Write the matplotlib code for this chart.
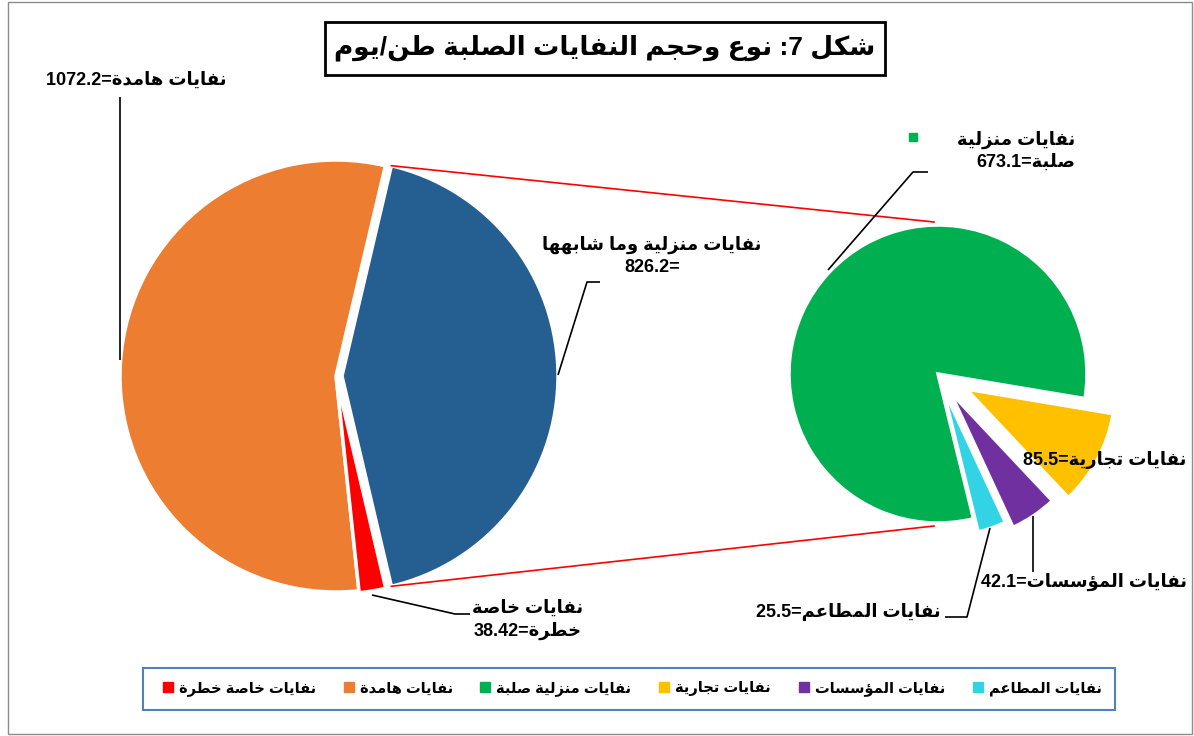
import re

import numpy as np
import matplotlib
matplotlib.use("Agg")
import matplotlib.pyplot as plt
from matplotlib.patches import Rectangle
from matplotlib.lines import Line2D

W, H = 1194, 736

# data (tons/day)
main_names = ["نفايات منزلية وما شابهها", "نفايات هامدة", "نفايات خاصة خطرة"]
main_values = [826.2, 1072.2, 38.42]
main_colors = ["#255E91", "#ED7D31", "#FF0000"]

sub_names = ["نفايات منزلية صلبة", "نفايات المطاعم", "نفايات المؤسسات", "نفايات تجارية"]
sub_values = [673.1, 25.5, 42.1, 85.5]
sub_colors = ["#00B050", "#33D3E6", "#7030A0", "#FFC000"]

title = "شكل 7: نوع وحجم النفايات الصلبة طن/يوم"

FAMILY = ["Liberation Sans", "DejaVu Sans"]

# minimal arabic shaping (presentation forms) + right-to-left ordering
_DUAL = {"ئ": 0xFE89, "ب": 0xFE8F, "ت": 0xFE95, "ث": 0xFE99, "ج": 0xFE9D, "ح": 0xFEA1,
         "خ": 0xFEA5, "س": 0xFEB1, "ش": 0xFEB5, "ص": 0xFEB9, "ض": 0xFEBD, "ط": 0xFEC1,
         "ظ": 0xFEC5, "ع": 0xFEC9, "غ": 0xFECD, "ف": 0xFED1, "ق": 0xFED5, "ك": 0xFED9,
         "ل": 0xFEDD, "م": 0xFEE1, "ن": 0xFEE5, "ه": 0xFEE9, "ي": 0xFEF1}
_RIGHT = {"آ": 0xFE81, "أ": 0xFE83, "ؤ": 0xFE85, "إ": 0xFE87, "ا": 0xFE8D, "ة": 0xFE93,
          "د": 0xFEA9, "ذ": 0xFEAB, "ر": 0xFEAD, "ز": 0xFEAF, "و": 0xFEED, "ى": 0xFEEF}
_LAMALEF = {"آ": 0xFEF5, "أ": 0xFEF7, "إ": 0xFEF9, "ا": 0xFEFB}


def shape(s):
    toks = []
    i = 0
    while i < len(s):
        c = s[i]
        if c == "ل" and i + 1 < len(s) and s[i + 1] in _LAMALEF:
            toks.append((_LAMALEF[s[i + 1]], "R"))
            i += 2
            continue
        if c in _DUAL:
            toks.append((_DUAL[c], "D"))
        elif c in _RIGHT:
            toks.append((_RIGHT[c], "R"))
        else:
            toks.append((c, None))
        i += 1
    out = []
    for k, (b, t) in enumerate(toks):
        if t is None:
            out.append(b)
            continue
        pj = k > 0 and toks[k - 1][1] == "D"
        nj = t == "D" and k + 1 < len(toks) and toks[k + 1][1] is not None
        if t == "D":
            off = 3 if (pj and nj) else 1 if pj else 2 if nj else 0
        else:
            off = 1 if pj else 0
        out.append(chr(b + off))
    return "".join(out)


def rtl(s):
    lines = []
    for line in s.split("\n"):
        v = shape(line)[::-1]
        v = re.sub(r"[0-9.]+", lambda m: m.group(0)[::-1], v)
        lines.append(v)
    return "\n".join(lines)


def iy(y):
    # image y (from top) -> axes y (from bottom)
    return H - y


def leader(ax, pts):
    xs = [p[0] for p in pts]
    ys = [iy(p[1]) for p in pts]
    ax.plot(xs, ys, color="black", lw=1.2, solid_capstyle="butt", zorder=3)


fig = plt.figure(figsize=(W / 100, H / 100), dpi=100)
ax = fig.add_axes([0, 0, 1, 1])

# main pie, combined slice centred on the right side
main_c = (336, iy(376))
main_r = 216
start_main = -main_values[0] / sum(main_values) * 180
wl, _ = ax.pie(main_values, colors=main_colors, startangle=start_main, counterclock=True,
               explode=[6, 0, 2], center=main_c, radius=main_r,
               wedgeprops=dict(edgecolor="white", linewidth=2.5))

# secondary pie (explode is in data units here)
sub_c = (938, iy(374))
sub_r = 149
wr, _ = ax.pie(sub_values, colors=sub_colors, startangle=-9.5, counterclock=True,
               explode=[0, 14, 22, 32], center=sub_c, radius=sub_r,
               wedgeprops=dict(edgecolor="white", linewidth=2.5))

# connector lines
bw = wl[0]
bx, by = bw.center
p_top = (bx + bw.r * np.cos(np.radians(bw.theta2)), by + bw.r * np.sin(np.radians(bw.theta2)))
p_bot = (bx + bw.r * np.cos(np.radians(bw.theta1)), by + bw.r * np.sin(np.radians(bw.theta1)))
ax.plot([p_top[0], sub_c[0] - 4], [p_top[1], sub_c[1] + sub_r + 3], color="#FF0000", lw=1.2, zorder=1)
ax.plot([p_bot[0], sub_c[0] - 4], [p_bot[1], sub_c[1] - sub_r - 3], color="#FF0000", lw=1.2, zorder=1)

ax.set_xlim(0, W)
ax.set_ylim(0, H)
ax.set_aspect("equal")
ax.axis("off")

# data labels
lab_kw = dict(family=FAMILY, fontweight="bold", fontsize=13, color="black",
              va="center", zorder=4)
ax.text(136, iy(80), rtl(f"{main_names[1]}={main_values[1]}"), ha="center", **lab_kw)
ax.text(652, iy(256), rtl(f"{main_names[0]}\n={main_values[0]}"), ha="center",
        multialignment="center", linespacing=1.35, **lab_kw)
ax.text(528, iy(620), rtl(f"نفايات خاصة\nخطرة={main_values[2]}"), ha="center",
        multialignment="center", linespacing=1.35, **lab_kw)
ax.text(1075, iy(151), rtl(f"نفايات منزلية\nصلبة={sub_values[0]}"), ha="right",
        multialignment="right", linespacing=1.35, **lab_kw)
ax.plot([913], [iy(137)], marker="s", ms=6, color=sub_colors[0], ls="none", zorder=4)
ax.text(1186, iy(460), rtl(f"{sub_names[3]}={sub_values[3]}"), ha="right", **lab_kw)
ax.text(1187, iy(582), rtl(f"{sub_names[2]}={sub_values[2]}"), ha="right", **lab_kw)
ax.text(941, iy(612), rtl(f"{sub_names[1]}={sub_values[1]}"), ha="right", **lab_kw)

leader(ax, [(120, 360), (120, 97)])
leader(ax, [(558, 375), (587, 282), (600, 282)])
leader(ax, [(828, 270), (913, 172), (928, 172)])
leader(ax, [(1033, 516), (1033, 572)])
leader(ax, [(990, 528), (967, 617), (945, 617)])
leader(ax, [(372, 595), (455, 614), (470, 614)])

# title in a box
ax.add_patch(Rectangle((325, iy(75)), 560, 53, fill=False, edgecolor="black", lw=2, zorder=5))
ax.text(605, iy(48), rtl(title), ha="center", va="center", family=FAMILY,
        fontweight="bold", fontsize=19, zorder=6)

# legend (left to right as in the reference)
order = [("m", 2), ("m", 1), ("s", 0), ("s", 3), ("s", 2), ("s", 1)]
handles, labels = [], []
for kind, idx in order:
    names, cols = (main_names, main_colors) if kind == "m" else (sub_names, sub_colors)
    handles.append(Line2D([], [], marker="s", ms=7, ls="none", color=cols[idx]))
    labels.append(rtl(names[idx]))
ax.add_patch(Rectangle((143, iy(710)), 972, 42, fill=False, edgecolor="#4F81BD", lw=1.5, zorder=5))
ax.legend(handles, labels, loc="center", bbox_to_anchor=(632 / W, 1 - 689 / H), ncol=6,
          frameon=False, prop=dict(family=FAMILY, weight="bold", size=10.5),
          handlelength=0.7, handletextpad=0.4, columnspacing=1.9)

# outer chart border
ax.add_patch(Rectangle((8, 2), W - 10, H - 4, fill=False, edgecolor="#8C8C8C", lw=1, zorder=0))

fig.savefig("out.png", dpi=100)
